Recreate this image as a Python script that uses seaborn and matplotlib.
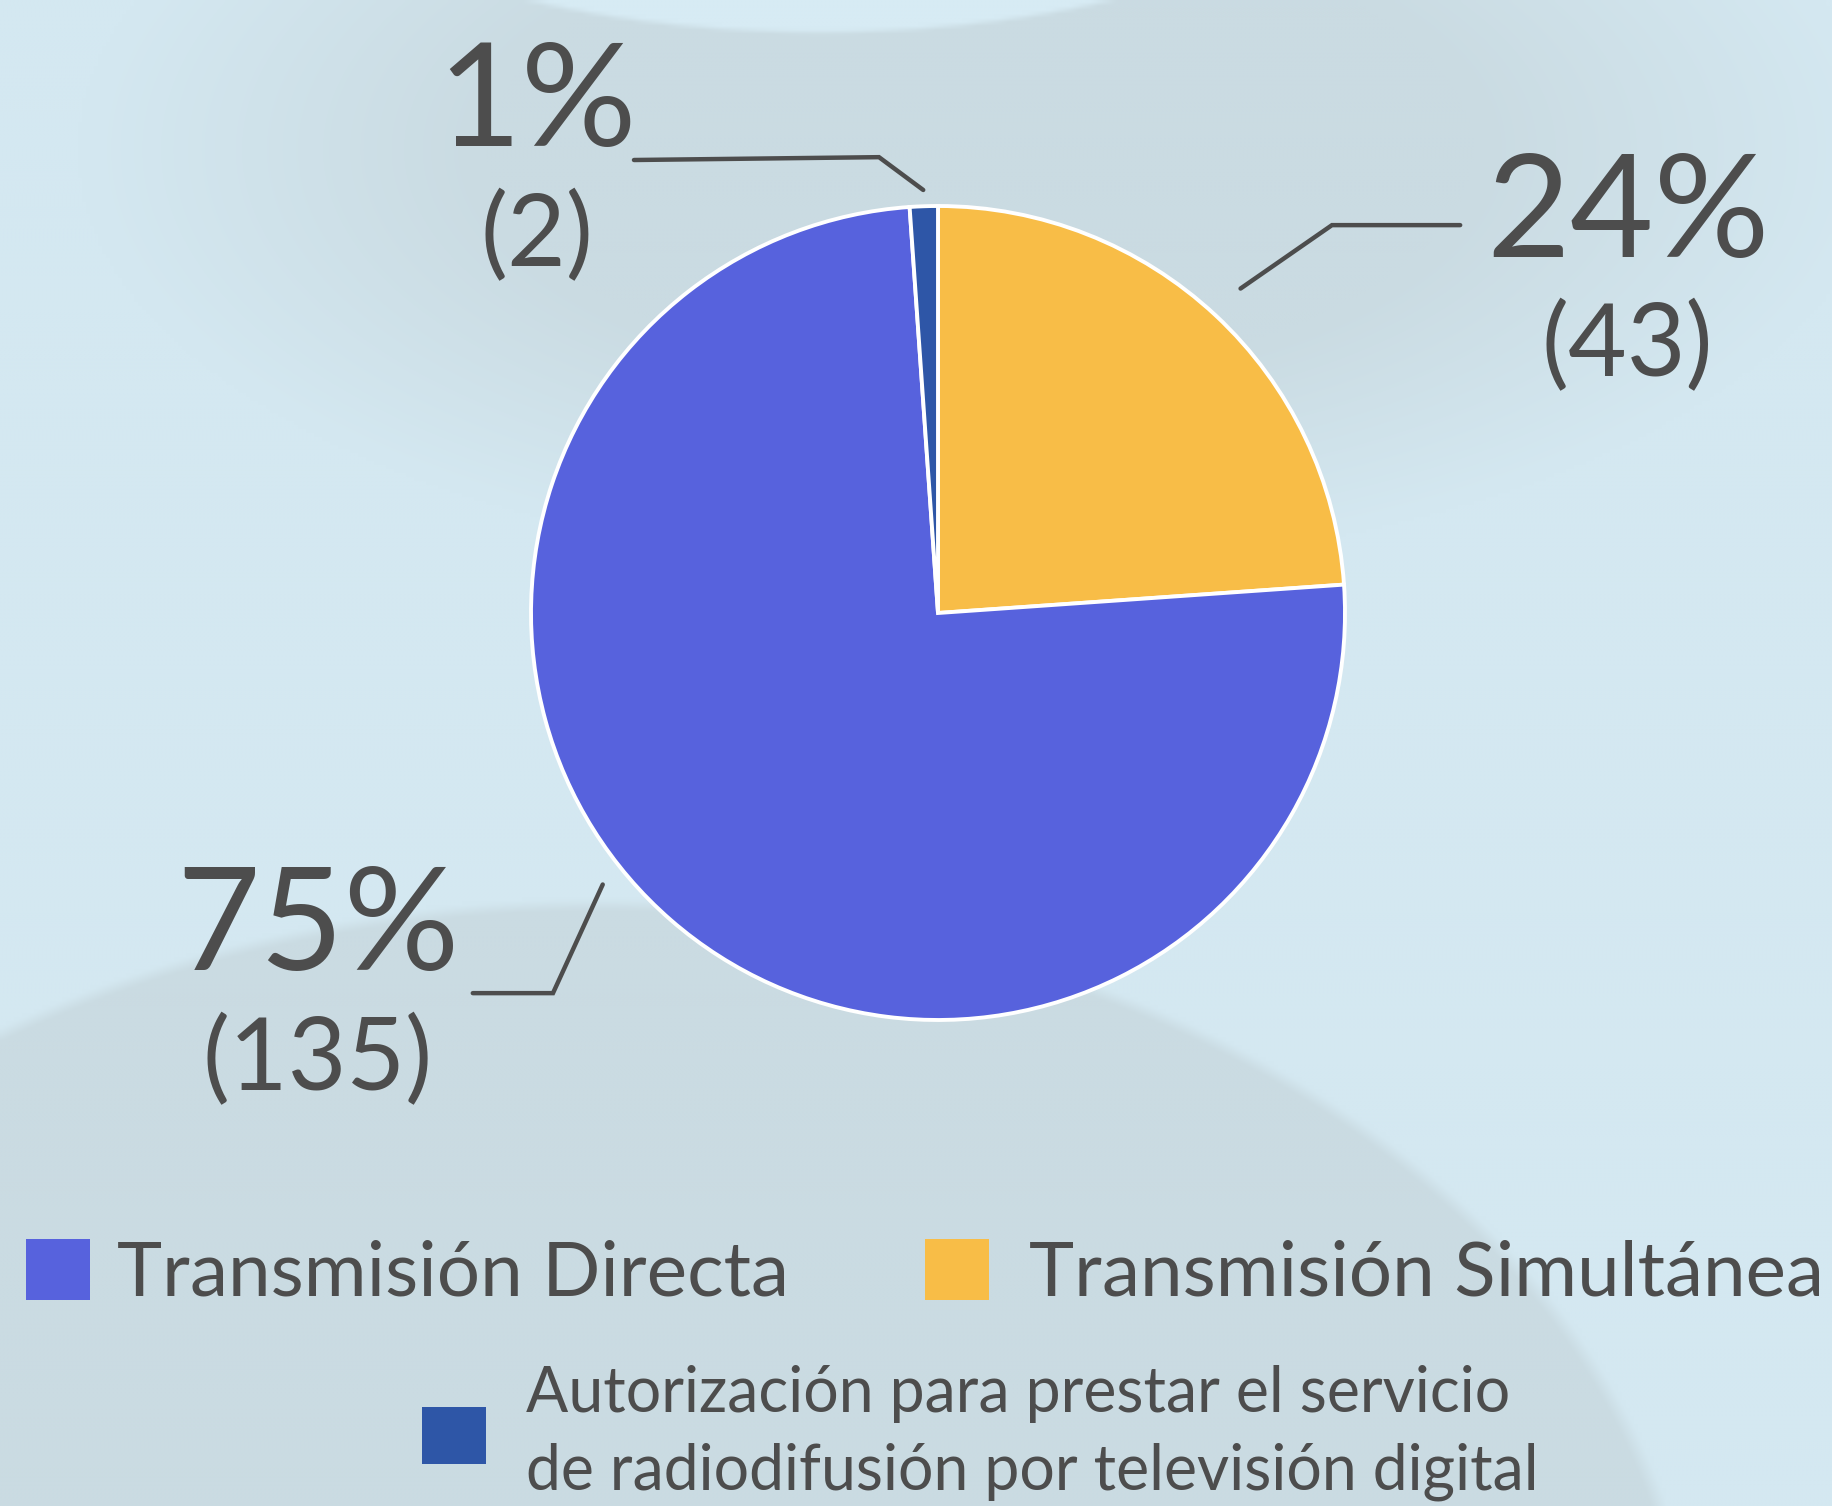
import numpy as np
import pandas as pd
import matplotlib
matplotlib.use("Agg")
import matplotlib.pyplot as plt
import seaborn as sns
from matplotlib.patches import Patch
from matplotlib.colors import to_rgb

# ---------------- data ----------------
categories = [
    "Transmisión Simultánea",
    "Transmisión Directa",
    "Autorización para prestar el servicio\nde radiodifusión por televisión digital",
]
counts = [43, 135, 2]
percent_labels = ["24%", "75%", "1%"]
count_labels = ["(43)", "(135)", "(2)"]
colors = ["#F8BD47", "#5762DD", "#2E56A7"]

# ---------------- style ----------------
sns.set_theme(style="white")
plt.rcParams["font.family"] = ["Lato", "DejaVu Sans"]
TXT = "#4D4D4D"

W, H, DPI = 1832, 1506, 100
fig = plt.figure(figsize=(W / DPI, H / DPI), dpi=DPI, facecolor="#D3E7F0")

# decorative background (soft shapes)
bg = fig.add_axes([0, 0, 1, 1], zorder=0)
step = 4
gx, gy = np.meshgrid(np.arange(0, W, step) + step / 2, np.arange(0, H, step) + step / 2)
base = np.array(to_rgb("#D4E8F1"))
gray = np.array(to_rgb("#CADBE2"))
light = np.array(to_rgb("#D7EBF4"))
d1 = np.sqrt(((gx - 980) / 900) ** 2 + ((gy - 150) / 420) ** 2)
w1 = np.clip((1.0 - d1) / 0.45, 0, 1)
d2 = np.sqrt(((gx - 600) / 1100) ** 2 + ((gy - 1700) / 800) ** 2)
w2 = np.clip((1.0 - d2) / 0.015, 0, 1)
d3 = np.sqrt(((gx - 820) / 625) ** 2 + ((gy + 240) / 275) ** 2)
w3 = np.clip((1.0 - d3) / 0.02, 0, 1)
img = base * (1 - w1[..., None]) + gray * w1[..., None]
img = img * (1 - w2[..., None]) + gray * w2[..., None]
img = img * (1 - w3[..., None]) + light * w3[..., None]
bg.imshow(img, extent=(0, W, H, 0), interpolation="bilinear", aspect="auto")
bg.set_xlim(0, W)
bg.set_ylim(H, 0)
bg.axis("off")

# ---------------- pie ----------------
ax = fig.add_axes([0, 0, 1, 1], zorder=1)
ax.set_facecolor("none")
wedges, _ = ax.pie(
    counts, colors=colors, startangle=90, counterclock=False, radius=1,
    wedgeprops=dict(edgecolor="white", linewidth=2.8),
)
cx, cy, R = 938, 613, 407
ax.set_xlim(-cx / R, (W - cx) / R)
ax.set_ylim(-(H - cy) / R, cy / R)
ax.set_aspect("equal")
ax.axis("off")

layout = {
    0: dict(r=1.09, dang=0, elbow=(0.968, 0.953), end=(1.283, 0.953),
            pct=(1.696, 0.875), cnt=(1.693, 0.582)),
    1: dict(r=1.06, dang=-10, elbow=(-0.946, -0.934), end=(-1.143, -0.934),
            pct=(-1.523, -0.877), cnt=(-1.524, -1.172)),
    2: dict(r=1.04, dang=0, elbow=(-0.145, 1.120), end=(-0.747, 1.113),
            pct=(-0.985, 1.147), cnt=(-0.985, 0.853)),
}
for i, w in enumerate(wedges):
    L = layout[i]
    mid = np.deg2rad((w.theta1 + w.theta2) / 2 + L["dang"])
    a0 = (L["r"] * np.cos(mid), L["r"] * np.sin(mid))
    xs = [a0[0], L["elbow"][0], L["end"][0]]
    ys = [a0[1], L["elbow"][1], L["end"][1]]
    ax.plot(xs, ys, color=TXT, lw=3.2, solid_capstyle="round", solid_joinstyle="miter")
    ax.text(*L["pct"], percent_labels[i], ha="center", va="baseline",
            fontsize=104, color=TXT)
    ax.text(*L["cnt"], count_labels[i], ha="center", va="baseline",
            fontsize=73, color=TXT)

# ---------------- legend ----------------
def add_leg(idx, x_px, y_px, fs, pad_px, ls=None):
    em = fs * DPI / 72
    h = Patch(facecolor=colors[idx], edgecolor="none")
    leg = fig.legend(
        [h], [categories[idx]], loc="center left",
        bbox_to_anchor=(x_px / W, 1 - y_px / H), frameon=False, fontsize=fs,
        handlelength=64 / em, handleheight=64 / em, handletextpad=pad_px / em,
        borderpad=0, borderaxespad=0, labelcolor=TXT,
    )
    if ls is not None:
        for t in leg.get_texts():
            t.set_linespacing(ls)
    return leg

add_leg(1, 26, 1274, 55, 27)
add_leg(0, 925, 1274, 55, 40)
add_leg(2, 422, 1433, 45, 40, ls=1.4)

fig.savefig("out.png", dpi=DPI, facecolor=fig.get_facecolor())
